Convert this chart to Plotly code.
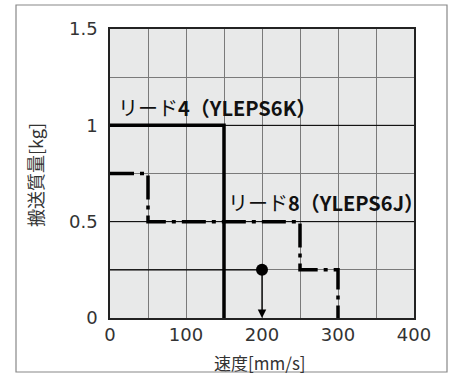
import plotly.graph_objects as go

# Data
lead4_speed = [0, 150, 150]
lead4_mass = [1.0, 1.0, 0.0]
lead8_speed = [0, 50, 50, 250, 250, 300, 300]
lead8_mass = [0.75, 0.75, 0.5, 0.5, 0.25, 0.25, 0.0]
op_speed = [0, 200]
op_mass = [0.25, 0.25]
x_tickvals = [0, 50, 100, 150, 200, 250, 300, 350, 400]
x_ticktext = ["0", "", "100", "", "200", "", "300", "", "400"]
y_tickvals = [0, 0.25, 0.5, 0.75, 1.0, 1.25, 1.5]
y_ticktext = ["0", "", "0.5", "", "1", "", "1.5"]
ref_lines_y = [0.5, 1.0]

JP = "Noto Sans CJK JP"
NUMF = dict(family="DejaVu Sans", size=18, color="#333")

fig = go.Figure()

for yv in ref_lines_y:
    fig.add_trace(go.Scatter(x=[0, 400], y=[yv, yv], mode="lines",
                             line=dict(color="black", width=1), hoverinfo="skip", showlegend=False))

fig.add_trace(go.Scatter(x=op_speed, y=op_mass, mode="lines",
                         line=dict(color="black", width=1.2), showlegend=False))

fig.add_trace(go.Scatter(x=lead4_speed, y=lead4_mass, mode="lines",
                         line=dict(color="black", width=3.5), showlegend=False))

fig.add_trace(go.Scatter(x=lead8_speed, y=lead8_mass, mode="lines",
                         line=dict(color="black", width=3.5, dash="24px,6px,4px,6px"), showlegend=False))

fig.add_trace(go.Scatter(x=[op_speed[-1]], y=[op_mass[-1]], mode="markers",
                         marker=dict(color="black", size=12), showlegend=False))

fig.add_annotation(x=op_speed[-1], y=0, ax=op_speed[-1], ay=op_mass[-1], xref="x", yref="y",
                   axref="x", ayref="y", showarrow=True, arrowhead=2, arrowsize=1.3,
                   arrowwidth=1.3, arrowcolor="black", text="", standoff=0)

fig.add_annotation(x=8, y=1.095, xref="x", yref="y", text="リード<b>4（YLEPS6K）</b>",
                   showarrow=False, xanchor="left", yanchor="middle",
                   font=dict(family=JP, size=20, color="#111"))
fig.add_annotation(x=152, y=0.60, xref="x", yref="y", text="リード<b>8（YLEPS6J）</b>",
                   showarrow=False, xanchor="left", yanchor="middle",
                   font=dict(family=JP, size=20, color="#111"))

# Axis titles
fig.add_annotation(x=(260 - 110) / 304, y=(318 - 362) / 289, xref="paper", yref="paper",
                   text="速度[mm/s]", showarrow=False, xanchor="center", yanchor="middle",
                   font=dict(family=JP, size=17, color="#333"))
fig.add_annotation(x=(35 - 110) / 304, y=(318 - 175) / 289, xref="paper", yref="paper",
                   text="搬送質量[kg]", showarrow=False, xanchor="center", yanchor="middle",
                   textangle=-90, font=dict(family=JP, size=18, color="#333"))

# Outer frame
fig.add_shape(type="rect", xref="paper", yref="paper",
              x0=(16 - 110) / 304, x1=(447 - 110) / 304,
              y0=(318 - 372) / 289, y1=(318 - 5) / 289,
              line=dict(color="#888", width=1.2), fillcolor="rgba(0,0,0,0)", layer="below")

fig.update_layout(
    width=449, height=383,
    margin=dict(l=110, r=35, t=29, b=65, autoexpand=False),
    paper_bgcolor="white", plot_bgcolor="#e8e9e9",
    font=dict(family="DejaVu Sans", color="#333"),
)
fig.update_xaxes(range=[0, 400], tickvals=x_tickvals, ticktext=x_ticktext,
                 showgrid=True, gridcolor="#7a7a7a", gridwidth=1.2,
                 showline=True, linecolor="#222", linewidth=1.5, mirror=True,
                 ticks="", zeroline=False, tickfont=NUMF, ticklabelstandoff=0,
                 automargin=False)
fig.update_yaxes(range=[0, 1.5], tickvals=y_tickvals, ticktext=y_ticktext,
                 showgrid=True, gridcolor="#7a7a7a", gridwidth=1.2,
                 showline=True, linecolor="#222", linewidth=1.5, mirror=True,
                 ticks="", zeroline=False, tickfont=NUMF, ticklabelstandoff=7,
                 automargin=False)

fig.write_html("out.html", config={"displayModeBar": False},
               post_script="document.body.style.margin='0';")
